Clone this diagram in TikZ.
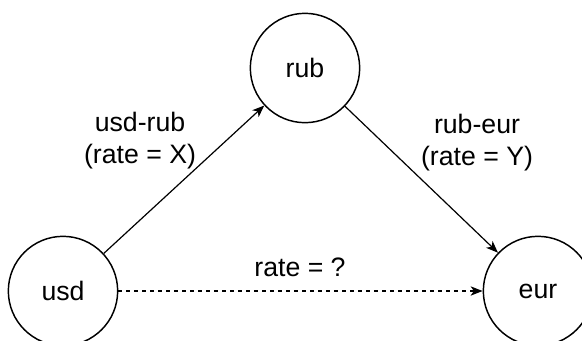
\documentclass[tikz,border=0pt]{standalone}
\usepackage{fontspec}
\setmainfont{Liberation Sans}
\usetikzlibrary{positioning,arrows.meta}

\begin{document}
\begin{tikzpicture}[
  x=0.75pt, y=-0.75pt,
  cur/.style={draw, circle, line width=1.1pt, minimum size=82pt, inner sep=0pt, font=\fontsize{20}{24}\selectfont},
  lbl/.style={align=center, font=\fontsize{20}{24}\selectfont, inner sep=0pt},
  arr/.style={-{Stealth[length=9pt, width=7pt, inset=2.5pt]}, line width=0.9pt}
]
\useasboundingbox (0,0) rectangle (582,340);

\node[cur] (usd) at (63,291) {usd};
\node[cur] (rub) at (305,68) {rub};
\node[cur] (eur) at (538,291) {eur};

\node[lbl] (usdrub) at (140,141) {usd-rub\\(rate = X)};
\node[lbl] (rubeur) at (477,143) {rub-eur\\(rate = Y)};
\node[lbl] (unknown) at (300,267) {rate = ?};

\draw[arr] (usd) -- (rub);
\draw[arr] (rub) -- (eur);
\draw[arr, dash pattern=on 3pt off 3pt] (usd) -- (eur);
\end{tikzpicture}
\end{document}
